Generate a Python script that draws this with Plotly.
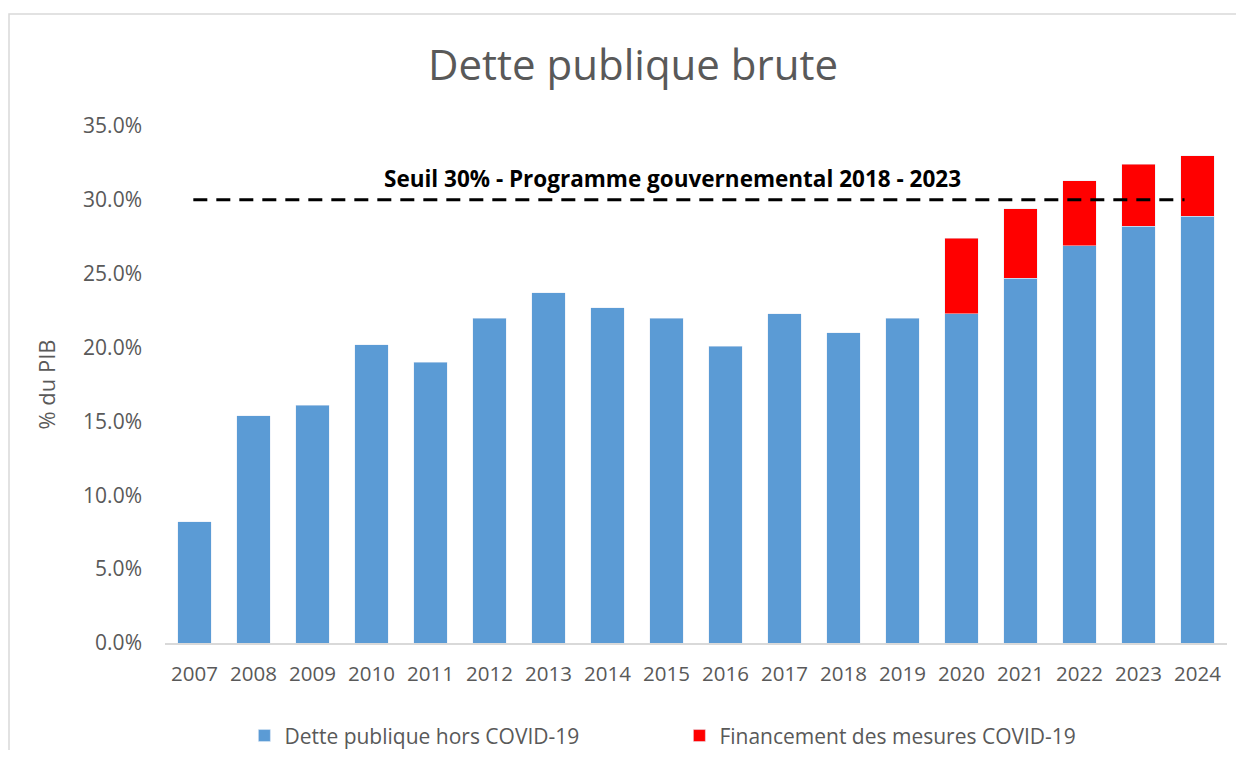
import plotly.graph_objects as go

# données (% du PIB)
annees = [str(a) for a in range(2007, 2025)]
dette_hors_covid = [8.2, 15.4, 16.1, 20.2, 19.0, 22.0, 23.7, 22.7, 22.0, 20.1,
                    22.3, 21.0, 22.0, 22.3, 24.7, 26.9, 28.2, 28.9]
financement_covid = [None] * 13 + [5.1, 4.7, 4.4, 4.2, 4.1]
seuil = 30.0
seuil_label = "Seuil 30% - Programme gouvernemental 2018 - 2023"

gris = "#595959"
police = "Open Sans"

fig = go.Figure()
fig.add_trace(go.Bar(
    x=annees, y=dette_hors_covid,
    name="Dette publique hors COVID-19",
    marker=dict(color="#5B9BD5"),
))
fig.add_trace(go.Bar(
    x=annees, y=financement_covid,
    name="Financement des mesures COVID-19",
    marker=dict(color="#FF0000"),
))

# ligne de seuil en pointillés
fig.add_shape(type="line", xref="x", yref="y",
              x0=-0.02, x1=16.78, y0=seuil, y1=seuil,
              line=dict(color="black", width=3, dash="14px,9px"))
fig.add_annotation(x=8.1, y=seuil, xref="x", yref="y", yanchor="bottom",
                   text="<b>" + seuil_label + "</b>", showarrow=False, yshift=4,
                   font=dict(family=police, size=22.5, color="black"))

# cadre gris clair autour du graphique
fig.add_shape(type="rect", xref="paper", yref="paper",
              x0=-0.1469, x1=1.03, y0=-0.25, y1=1.2166,
              line=dict(color="#D9D9D9", width=1.5), layer="below")

# la page a une marge de 8px : figure réduite de 16px
fig.update_layout(
    width=1228, height=742,
    barmode="stack", bargap=0.44,
    plot_bgcolor="white", paper_bgcolor="white",
    font=dict(family=police, color=gris, size=20),
    title=dict(text="Dette publique brute", x=0.509, xanchor="center",
               y=0.923, yanchor="middle", yref="container",
               font=dict(size=42, color=gris)),
    xaxis=dict(showgrid=False, showline=True, linecolor="#D9D9D9", linewidth=1.5,
               ticks="outside", tickcolor="white", ticklen=12,
               tickfont=dict(size=20.5, color=gris)),
    yaxis=dict(range=[0, 35], dtick=5, ticksuffix="%", tickformat=".1f",
               showgrid=False, zeroline=False, showline=False, ticks="",
               ticklabelstandoff=22,
               tickfont=dict(size=21, color=gris),
               title=dict(text="% du PIB", standoff=21,
                          font=dict(size=22, color=gris))),
    legend=dict(orientation="h", xref="container", yref="container",
                x=0.1925, xanchor="left", y=0.019, yanchor="middle",
                font=dict(size=21, color=gris), traceorder="normal",
                itemwidth=30, entrywidth=390, entrywidthmode="pixels"),
    margin=dict(l=157, r=9, t=118, b=107, autoexpand=False),
)

fig.write_html("out.html")
